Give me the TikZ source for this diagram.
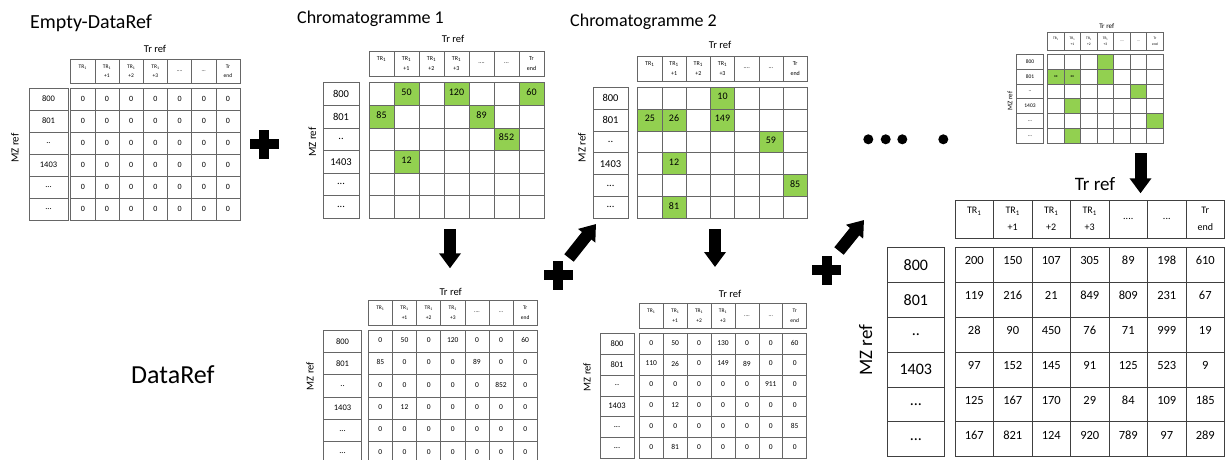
\documentclass[tikz,border=0pt]{standalone}
\usepackage{fontspec}
\setmainfont{Carlito}
\usetikzlibrary{arrows.meta}
\definecolor{cellgreen}{HTML}{92D050}
\newcommand\twodots{..}
\newcommand\threedots{...}
\newcommand\mktbl[1]{%
  \foreach \ci in {1,...,7}{%
    \node[cellbox, minimum width=\tcw pt, minimum height=\thh pt] (#1-h\ci) at ({\tx+(\ci-0.5)*\tcw},{\thy+0.5*\thh}) {};
  }%
  \node[htext] (#1-ht1) at (#1-h1) {TR\textsubscript{1}\\\phantom{+1}};
  \node[htext] (#1-ht2) at (#1-h2) {TR\textsubscript{1}\\+1};
  \node[htext] (#1-ht3) at (#1-h3) {TR\textsubscript{1}\\+2};
  \node[htext] (#1-ht4) at (#1-h4) {TR\textsubscript{1}\\+3};
  \node[htext] (#1-ht5) at (#1-h5) {....};
  \node[htext] (#1-ht6) at (#1-h6) {...};
  \node[htext] (#1-ht7) at (#1-h7) {Tr\\end};
  \foreach \lbl [count=\ri] in {800,801,\twodots,1403,\threedots,\threedots}{%
    \node[cellbox, minimum width=\tlw pt, minimum height=\trh pt, font=\lf] (#1-l\ri) at ({\tlx+0.5*\tlw},{\tdy+(\ri-0.5)*\trh}) {\lbl};
    \foreach \ci in {1,...,7}{%
      \node[cellbox, minimum width=\tcw pt, minimum height=\trh pt] (#1-\ri-\ci) at ({\tx+(\ci-0.5)*\tcw},{\tdy+(\ri-0.5)*\trh}) {};
    }%
  }%
}
\newcommand\greens[2]{%
  \foreach \ri/\ci/\vv in {#2}{%
    \fill[cellgreen] ({\tx+(\ci-1)*\tcw},{\tdy+(\ri-1)*\trh}) rectangle ++(\tcw,\trh);
    \node[dtext] (#1-v\ri-\ci) at ({\tx+(\ci-0.5)*\tcw},{\tdy+(\ri-1+\toff)*\trh}) {\vv};
  }%
}
\newcommand\vals[2]{%
  \foreach \row [count=\ri] in {#2}{%
    \foreach \vv [count=\ci] in \row {%
      \node[dtext] (#1-v\ri-\ci) at ({\tx+(\ci-0.5)*\tcw},{\tdy+(\ri-1+\toff)*\trh}) {\vv};
    }%
  }%
}
\begin{document}
\begin{tikzpicture}[x=1pt,y=-1pt,
  gl/.style={draw=black!60, line width=0.6pt},
  cellbox/.style={gl, inner sep=0pt, outer sep=0pt},
  htext/.style={inner sep=0pt, align=center, font=\hf},
  dtext/.style={inner sep=0pt, font=\df},
  lbltext/.style={inner sep=0pt, font=\tf},
  mz/.style={inner sep=0pt, font=\mf, rotate=90},
  title/.style={inner sep=0pt, anchor=base west},
  blockarrow/.style={line width=12pt, -{Triangle[width=21pt,length=15pt]}},
  dot/.style={circle, fill, inner sep=0pt, minimum size=10pt},
  plussign/.pic={\fill (-14.5,-5) rectangle (14.5,5); \fill (-5,-14.5) rectangle (5,14.5);}
]
\useasboundingbox (0,0) rectangle (1225,459);

% ---------- T1 Empty-DataRef
\def\tx{70.7}\def\tcw{24.2}\def\thy{59}\def\thh{24}\def\tdy{88}\def\trh{22}\def\tlx{29}\def\tlw{39}\def\toff{0.5}
\def\hf{\fontsize{5.5}{9.5}\selectfont}\def\lf{\fontsize{8.5}{10}\selectfont}\def\df{\fontsize{8}{10}\selectfont}\def\tf{\fontsize{10.5}{12}\selectfont}\def\mf{\fontsize{11}{12}\selectfont}
\mktbl{T1}
\foreach \ri in {1,...,6}{\foreach \ci in {1,...,7}{\node[dtext] (T1-v\ri-\ci) at ({\tx+(\ci-0.5)*\tcw},{\tdy+(\ri-1+\toff)*\trh}) {0};}}
\node[lbltext] (T1-tr) at (155,49) {Tr ref};
\node[mz] (T1-mz) at (15,148) {MZ ref};
\node[title, font=\fontsize{20}{24}\selectfont] (T1-title) at (30,28) {Empty-DataRef};

% ---------- T2 Chromatogramme 1
\def\tx{369}\def\tcw{25}\def\thy{51}\def\thh{25}\def\tdy{82.7}\def\trh{22.6}\def\tlx{323}\def\tlw{36}\def\toff{0.42}
\def\hf{\fontsize{6}{10}\selectfont}\def\lf{\fontsize{10.5}{12}\selectfont}\def\df{\fontsize{10}{12}\selectfont}\def\tf{\fontsize{10.5}{12}\selectfont}\def\mf{\fontsize{11}{12}\selectfont}
\greens{T2}{1/2/50,1/4/120,1/7/60,2/1/85,2/5/89,3/6/852,4/2/12}
\mktbl{T2}
\node[lbltext] (T2-tr) at (453,39.3) {Tr ref};
\node[mz] (T2-mz) at (312.5,142) {MZ ref};
\node[title, font=\fontsize{18}{22}\selectfont] (T2-title) at (297,23.3) {Chromatogramme 1};

% ---------- T3 Chromatogramme 2
\def\tx{637.7}\def\tcw{24.23}\def\thy{56}\def\thh{25}\def\tdy{87.3}\def\trh{21.83}\def\tlx{593}\def\tlw{35}\def\toff{0.42}
\greens{T3}{1/4/10,2/1/25,2/2/26,2/4/149,3/6/59,4/2/12,5/7/85,6/2/81}
\mktbl{T3}
\node[lbltext] (T3-tr) at (720,45) {Tr ref};
\node[mz] (T3-mz) at (582,147.5) {MZ ref};
\node[title, font=\fontsize{18}{22}\selectfont] (T3-title) at (570,26.5) {Chromatogramme 2};

% ---------- T4 small top right
\def\tx{1047.7}\def\tcw{16.51}\def\thy{32.7}\def\thh{18}\def\tdy{54.3}\def\trh{14.83}\def\tlx{1016.7}\def\tlw{26.6}\def\toff{0.5}
\def\hf{\fontsize{3.6}{6}\selectfont}\def\lf{\fontsize{5.5}{7}\selectfont}\def\df{\fontsize{4}{5}\selectfont}\def\tf{\fontsize{7}{8}\selectfont}\def\mf{\fontsize{7}{8}\selectfont}
\greens{T4}{1/4/{},2/1/xx,2/2/xx,2/4/{},3/6/{},4/2/{},5/7/{},6/2/{}}
\mktbl{T4}
\node[lbltext] (T4-tr) at (1106.7,26) {Tr ref};
\node[mz] (T4-mz) at (1010,101) {MZ ref};

% ---------- T5 bottom result 1
\def\tx{368.3}\def\tcw{24.14}\def\thy{300}\def\thh{25}\def\tdy{330}\def\trh{22.35}\def\tlx{323.3}\def\tlw{38.4}\def\toff{0.45}
\def\hf{\fontsize{5.5}{9.5}\selectfont}\def\lf{\fontsize{8.5}{10}\selectfont}\def\df{\fontsize{7.5}{9}\selectfont}\def\tf{\fontsize{10.5}{12}\selectfont}\def\mf{\fontsize{10.5}{12}\selectfont}
\mktbl{T5}
\vals{T5}{{0,50,0,120,0,0,60},{85,0,0,0,89,0,0},{0,0,0,0,0,852,0},{0,12,0,0,0,0,0},{0,0,0,0,0,0,0},{0,0,0,0,0,0,0}}
\node[lbltext] (T5-tr) at (450.7,291.7) {Tr ref};
\node[mz] (T5-mz) at (310,376) {MZ ref};
\node[title, font=\fontsize{26}{30}\selectfont] (dataref) at (131,383) {DataRef};

% ---------- T6 bottom result 2
\def\tx{639.3}\def\tcw{23.91}\def\thy{303.3}\def\thh{25}\def\tdy{333.3}\def\trh{20.83}\def\tlx{600}\def\tlw{34}\def\toff{0.45}
\mktbl{T6}
\vals{T6}{{0,50,0,130,0,0,60},{110,26,0,149,89,0,0},{0,0,0,0,0,911,0},{0,12,0,0,0,0,0},{0,0,0,0,0,0,85},{0,81,0,0,0,0,0}}
\node[lbltext] (T6-tr) at (730,294) {Tr ref};
\node[mz] (T6-mz) at (587,377) {MZ ref};

% ---------- T7 big final
\tikzset{gl/.style={draw=black!75, line width=0.8pt}}
\def\tx{955}\def\tcw{38.5}\def\thy{200}\def\thh{38.3}\def\tdy{247.3}\def\trh{34.9}\def\tlx{887.3}\def\tlw{57}\def\toff{0.38}
\def\hf{\fontsize{10}{17}\selectfont}\def\lf{\fontsize{16}{18}\selectfont}\def\df{\fontsize{12.5}{14}\selectfont}\def\tf{\fontsize{19}{22}\selectfont}\def\mf{\fontsize{19}{22}\selectfont}
\mktbl{T7}
\vals{T7}{{200,150,107,305,89,198,610},{119,216,21,849,809,231,67},{28,90,450,76,71,999,19},{97,152,145,91,125,523,9},{125,167,170,29,84,109,185},{167,821,124,920,789,97,289}}
\node[lbltext] (T7-tr) at (1095,184) {Tr ref};
\node[mz] (T7-mz) at (865.7,350) {MZ ref};

% ---------- arrows, plus signs, dots
\coordinate (a1s) at (450,229.3); \coordinate (a1e) at (450,268.3);
\coordinate (a2s) at (569,258);   \coordinate (a2e) at (596,224);
\coordinate (a3s) at (715,229);   \coordinate (a3e) at (715,267);
\coordinate (a4s) at (839,251);   \coordinate (a4e) at (864,220);
\coordinate (a5s) at (1140.5,153.3); \coordinate (a5e) at (1140.5,193.3);
\draw[blockarrow] (a1s) -- (a1e);
\draw[blockarrow] (a2s) -- (a2e);
\draw[blockarrow] (a3s) -- (a3e);
\draw[blockarrow] (a4s) -- (a4e);
\draw[blockarrow] (a5s) -- (a5e);

\pic (plus1) at (264,144) {plussign};
\pic (plus2) at (558.3,275) {plussign};
\pic (plus3) at (826.7,270) {plussign};

\node[dot] (d1) at (868.3,139.3) {};
\node[dot] (d2) at (885.7,139.3) {};
\node[dot] (d3) at (902.3,139.3) {};
\node[dot] (d4) at (943.3,139.3) {};
\end{tikzpicture}
\end{document}
